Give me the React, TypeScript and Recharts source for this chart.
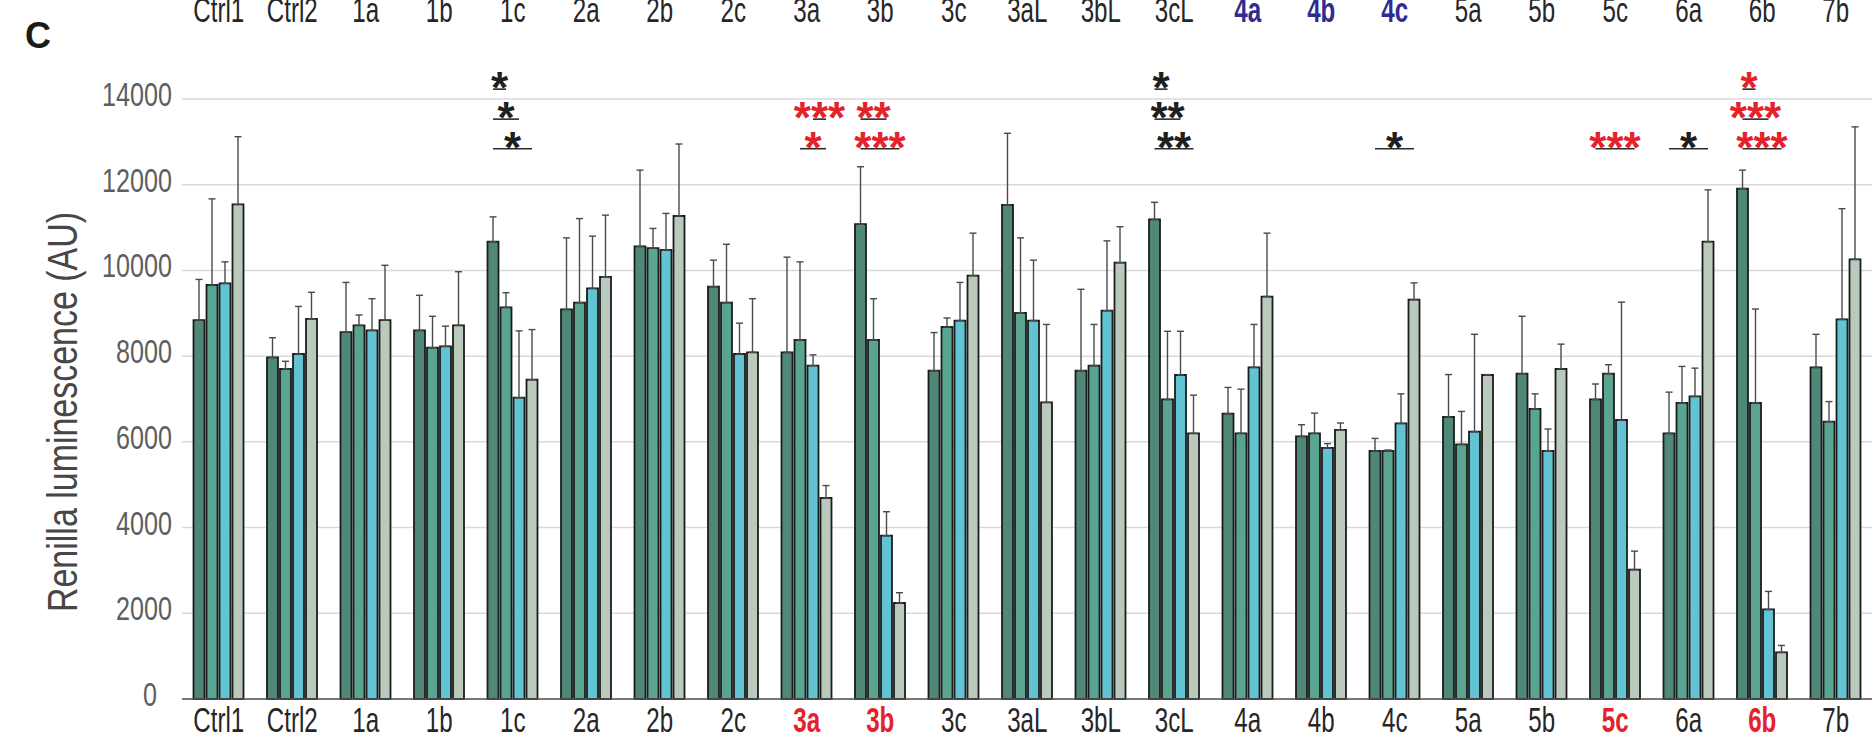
import React from "react";
import { BarChart, Bar, XAxis, YAxis, CartesianGrid, ErrorBar, LabelList } from "recharts";

// constructs, in plotting order
const categories = [
  "Ctrl1", "Ctrl2", "1a", "1b", "1c", "2a", "2b", "2c", "3a", "3b", "3c", "3aL",
  "3bL", "3cL", "4a", "4b", "4c", "5a", "5b", "5c", "6a", "6b", "7b",
];

// mean Renilla luminescence (AU), one array per condition
const mean1 = [8840, 7970, 8560, 8600, 10670, 9090, 10560, 9620, 8090, 11080, 7660, 11530, 7660, 11190, 6660, 6130, 5790, 6580, 7590, 6990, 6200, 11910, 7740];
const mean2 = [9660, 7700, 8720, 8200, 9140, 9250, 10520, 9250, 8380, 8380, 8680, 9010, 7780, 6990, 6200, 6200, 5790, 5940, 6770, 7590, 6910, 6910, 6470];
const mean3 = [9700, 8050, 8600, 8230, 7030, 9580, 10480, 8050, 7780, 3810, 8830, 8830, 9060, 7560, 7740, 5860, 6430, 6240, 5790, 6510, 7060, 2090, 8860];
const mean4 = [11540, 8870, 8840, 8720, 7450, 9850, 11270, 8090, 4690, 2240, 9880, 6920, 10180, 6200, 9390, 6280, 9320, 7560, 7700, 3020, 10670, 1090, 10260];

// upper error (SD)
const err1 = [950, 460, 1160, 820, 580, 1670, 1780, 620, 2220, 1340, 890, 1670, 1900, 400, 610, 270, 290, 990, 1340, 360, 960, 430, 770];
const err2 = [2010, 180, 240, 730, 340, 1960, 460, 1360, 1820, 960, 210, 1750, 960, 1590, 1030, 470, 20, 770, 350, 210, 850, 2190, 470];
const err3 = [500, 1110, 740, 470, 1560, 1220, 850, 720, 250, 560, 890, 1410, 1630, 1020, 1000, 100, 690, 2270, 510, 2750, 660, 420, 2580];
const err4 = [1580, 620, 1280, 1250, 1170, 1440, 1680, 1250, 290, 240, 990, 1820, 840, 890, 1480, 160, 390, 10, 580, 430, 1210, 160, 3090];

const yTicks = [0, 2000, 4000, 6000, 8000, 10000, 12000, 14000];
const redLabels = ["3a", "3b", "5c", "6b"];
const blueLabels = ["4a", "4b", "4c"];

// significance brackets: bar indices within the group, row 0 is the highest
const sigLevels = [14230, 13530, 12840];
const sigMarks = [
  { cat: "1c", from: 0, to: 1, row: 0, stars: "*", red: false },
  { cat: "1c", from: 0, to: 2, row: 1, stars: "*", red: false },
  { cat: "1c", from: 0, to: 3, row: 2, stars: "*", red: false },
  { cat: "3a", from: 2, to: 3, row: 1, stars: "***", red: true },
  { cat: "3a", from: 1, to: 3, row: 2, stars: "*", red: true },
  { cat: "3b", from: 0, to: 2, row: 1, stars: "**", red: true },
  { cat: "3b", from: 0, to: 3, row: 2, stars: "***", red: true },
  { cat: "3cL", from: 0, to: 1, row: 0, stars: "*", red: false },
  { cat: "3cL", from: 0, to: 2, row: 1, stars: "**", red: false },
  { cat: "3cL", from: 0, to: 3, row: 2, stars: "**", red: false },
  { cat: "4c", from: 0, to: 3, row: 2, stars: "*", red: false },
  { cat: "5c", from: 0, to: 3, row: 2, stars: "***", red: true },
  { cat: "6a", from: 0, to: 3, row: 2, stars: "*", red: false },
  { cat: "6b", from: 0, to: 1, row: 0, stars: "*", red: true },
  { cat: "6b", from: 0, to: 2, row: 1, stars: "***", red: true },
  { cat: "6b", from: 0, to: 3, row: 2, stars: "***", red: true },
];

const data = categories.map((name, i) => ({
  name,
  s1: mean1[i],
  s2: mean2[i],
  s3: mean3[i],
  s4: mean4[i],
  e1: [0, err1[i]],
  e2: [0, err2[i]],
  e3: [0, err3[i]],
  e4: [0, err4[i]],
}));

const FONT = "'Liberation Sans', Arial, Helvetica, sans-serif";
const RED = "#e4222b";
const BLUE = "#302b8f";
const BAR_GAP = 2;
const COLORS = ["#4f8878", "#5aa592", "#62c3d2", "#b9cabd"];

const BottomTick = ({ x, payload }: any) => {
  const red = redLabels.includes(payload.value);
  return (
    <text
      transform={`translate(${x},731.5) scale(0.67,1)`}
      textAnchor="middle"
      fontFamily={FONT}
      fontSize={36}
      fontWeight={red ? "bold" : "normal"}
      fill={red ? RED : "#262626"}
    >
      {payload.value}
    </text>
  );
};

const TopTick = ({ x, payload }: any) => {
  const blue = blueLabels.includes(payload.value);
  return (
    <text
      transform={`translate(${x},22) scale(0.67,1)`}
      textAnchor="middle"
      fontFamily={FONT}
      fontSize={36}
      fontWeight={blue ? "bold" : "normal"}
      fill={blue ? BLUE : "#262626"}
    >
      {payload.value}
    </text>
  );
};

const LeftTick = ({ y, payload }: any) => (
  <text
    transform={`translate(${payload.value === 0 ? 157 : 172},${y + 7}) scale(0.74,1)`}
    textAnchor="end"
    fontFamily={FONT}
    fontSize={34}
    fill="#5e5e5e"
  >
    {payload.value}
  </text>
);

const yTitle = () => (
  <text
    transform="translate(77,412) rotate(-90) scale(0.79,1)"
    textAnchor="middle"
    fontFamily={FONT}
    fontSize={43}
    fill="#474747"
  >
    Renilla luminescence (AU)
  </text>
);

// brackets hang off the first bar of each group
const renderSig = (props: any) => {
  const { index } = props;
  const vb = props.viewBox || props;
  const marks = sigMarks.filter((m) => m.cat === categories[index]);
  if (!marks.length) return null;
  const base = vb.y + vb.height;
  const perUnit = vb.height / mean1[index];
  const pitch = vb.width + BAR_GAP;
  const c0 = vb.x + vb.width / 2;
  return (
    <g>
      {marks.map((m, k) => {
        const ly = base - sigLevels[m.row] * perUnit;
        const xa = c0 + m.from * pitch;
        const xb = c0 + m.to * pitch;
        return (
          <g key={k}>
            <line x1={xa} x2={xb} y1={ly} y2={ly} stroke="#2b2b2b" strokeWidth={1.6} />
            <text
              x={(xa + xb) / 2}
              y={ly + 14}
              textAnchor="middle"
              fontFamily={FONT}
              fontSize={44}
              fontWeight="bold"
              fill={m.red ? RED : "#1f1f1f"}
            >
              {m.stars}
            </text>
          </g>
        );
      })}
    </g>
  );
};

export default function App() {
  const keys = ["s1", "s2", "s3", "s4"];
  return (
    <div
      style={{
        position: "fixed",
        left: 0,
        top: 0,
        width: 1872,
        height: 740,
        overflow: "hidden",
        background: "#fff",
      }}
    >
      <div
        style={{
          position: "absolute",
          left: 25,
          top: 16,
          fontFamily: FONT,
          fontWeight: "bold",
          fontSize: 36,
          lineHeight: "40px",
          color: "#1a1a1a",
        }}
      >
        C
      </div>
      <BarChart
        width={1900}
        height={740}
        data={data}
        margin={{ top: 49, right: 27.5, bottom: 0, left: 0 }}
        barCategoryGap={11.5}
        barGap={BAR_GAP}
      >
        <CartesianGrid vertical={false} stroke="#d9d9d9" strokeWidth={1.5} />
        <XAxis
          xAxisId="top"
          orientation="top"
          dataKey="name"
          height={50}
          axisLine={false}
          tickLine={false}
          interval={0}
          tick={<TopTick />}
        />
        <XAxis
          dataKey="name"
          height={41}
          axisLine={{ stroke: "#555", strokeWidth: 1.5 }}
          tickLine={false}
          interval={0}
          tick={<BottomTick />}
        />
        <YAxis
          width={182}
          domain={[0, 14000]}
          ticks={yTicks}
          interval={0}
          axisLine={false}
          tickLine={false}
          tick={<LeftTick />}
          label={yTitle}
        />
        {keys.map((k, i) => (
          <Bar
            key={k}
            dataKey={k}
            fill={COLORS[i]}
            stroke="#1c1c1c"
            strokeWidth={1.8}
            isAnimationActive={false}
          >
            <ErrorBar
              dataKey={`e${i + 1}`}
              direction="y"
              width={3.5}
              stroke="#4a4a4a"
              strokeWidth={1.4}
            />
            {i === 0 && <LabelList dataKey="s1" content={renderSig} />}
          </Bar>
        ))}
      </BarChart>
    </div>
  );
}
